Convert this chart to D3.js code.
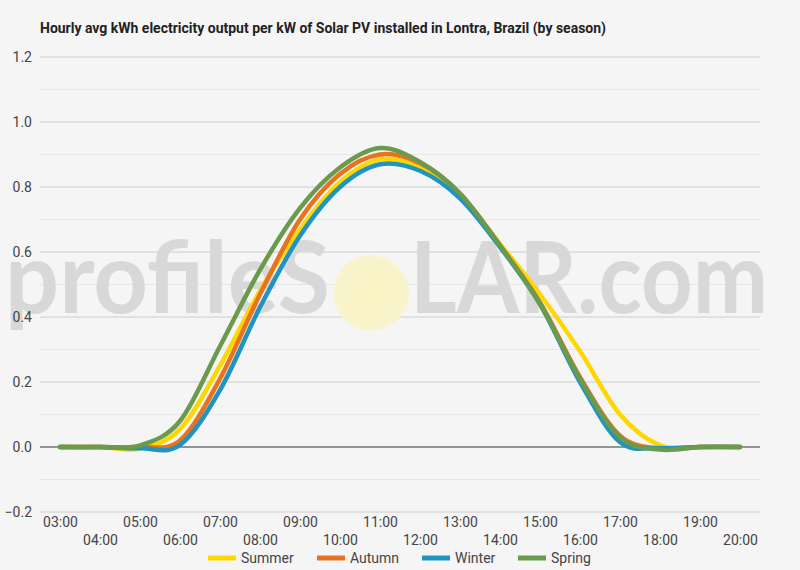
<!DOCTYPE html>
<html><head><meta charset="utf-8">
<script src="https://cdn.jsdelivr.net/npm/d3@7"></script>
<style>body{margin:0;background:#f5f5f5;}svg{display:block;font-family:Roboto,"Noto Sans",sans-serif;}</style>
</head><body>
<svg id="c" width="800" height="570"></svg>
<script>
const hours = ["03:00","04:00","05:00","06:00","07:00","08:00","09:00","10:00","11:00","12:00","13:00","14:00","15:00","16:00","17:00","18:00","19:00","20:00"];
const summer = [0,0,-0.005,0.055,0.25,0.48,0.67,0.815,0.885,0.86,0.775,0.625,0.47,0.295,0.10,0.005,0,0];
const autumn = [0,0,0,0.02,0.21,0.47,0.70,0.84,0.90,0.873,0.78,0.62,0.445,0.215,0.035,-0.005,0,0];
const winter = [0,0,-0.004,0.006,0.175,0.43,0.65,0.80,0.87,0.85,0.765,0.615,0.44,0.20,0.015,-0.003,0,0];
const spring = [0,0,0.005,0.08,0.31,0.545,0.735,0.86,0.92,0.877,0.78,0.62,0.44,0.21,0.03,-0.008,0,0];
const seriesNames = ["Summer","Autumn","Winter","Spring"];
const seriesColors = ["#FFD700","#E8731F","#1F94C2","#6A9B4D"];
const yTicks = [-0.2,0,0.2,0.4,0.6,0.8,1.0,1.2];
const yMinor = [-0.1,0.1,0.3,0.5,0.7,0.9,1.1];
const title = "Hourly avg kWh electricity output per kW of Solar PV installed in Lontra, Brazil (by season)";

const svg = d3.select("#c");
svg.append("rect").attr("width",800).attr("height",570).attr("fill","#f5f5f5");
const L=40,R=760,T=57,B=512;
const x = d3.scalePoint().domain(hours).range([L,R]).padding(0.5);
const y = d3.scaleLinear().domain([-0.2,1.2]).range([B,T]);

// minor grid
svg.append("g").selectAll("line").data(yMinor).join("line")
  .attr("x1",L).attr("x2",R).attr("y1",d=>y(d)).attr("y2",d=>y(d))
  .attr("stroke","#e6e6e6").attr("stroke-width",1);
// major grid
svg.append("g").selectAll("line").data(yTicks.filter(d=>d!==0)).join("line")
  .attr("x1",L).attr("x2",R).attr("y1",d=>y(d)).attr("y2",d=>y(d))
  .attr("stroke","#cccccc").attr("stroke-width",1);

// watermark
const defs = svg.append("defs");
const rg = defs.append("radialGradient").attr("id","sun");
rg.append("stop").attr("offset","0%").attr("stop-color","#fbf3c0");
rg.append("stop").attr("offset","100%").attr("stop-color","#f9f3cf");
const wm = svg.append("g");
wm.append("text").attr("x",5).attr("y",313).attr("font-family","Lato, 'Open Sans', sans-serif")
  .attr("font-size",100).attr("font-weight",700).attr("fill","#d8d8d8")
  .attr("textLength",325).attr("lengthAdjust","spacingAndGlyphs").text("profileS");
wm.append("circle").attr("cx",371).attr("cy",293).attr("r",38).attr("fill","url(#sun)");
wm.append("text").attr("x",410).attr("y",313).attr("font-family","Lato, 'Open Sans', sans-serif")
  .attr("font-size",100).attr("font-weight",700).attr("fill","#d8d8d8")
  .attr("textLength",358).attr("lengthAdjust","spacingAndGlyphs").text("LAR.com");

// zero line
svg.append("line").attr("x1",L).attr("x2",R).attr("y1",y(0)).attr("y2",y(0)).attr("stroke","#333").attr("stroke-width",1);

// y axis labels
const yAxis = d3.axisLeft(y).tickValues(yTicks).tickFormat(d3.format(".1f")).tickSize(0).tickPadding(8);
const ya = svg.append("g").attr("transform",`translate(${L},0)`).call(yAxis);
ya.select(".domain").remove();
ya.selectAll("text").attr("font-size",14).attr("fill","#444").attr("font-family","Roboto, sans-serif");

// x axis labels (two rows)
const xAxis = d3.axisBottom(x).tickSize(0).tickPadding(0);
const xa = svg.append("g").attr("transform",`translate(0,${B})`).call(xAxis);
xa.select(".domain").remove();
xa.selectAll(".tick text").attr("font-size",14).attr("fill","#444").attr("font-family","Roboto, sans-serif")
  .attr("dy",null).attr("y",(d,i)=> i%2===0 ? 15 : 33);

// lines
const line = d3.line().x((d,i)=>x(hours[i])).y(d=>y(d)).curve(d3.curveCatmullRom.alpha(0));
const allSeries = [summer,autumn,winter,spring];
svg.append("g").selectAll("path").data(allSeries).join("path")
  .attr("d",line).attr("fill","none").attr("stroke",(d,i)=>seriesColors[i])
  .attr("stroke-width",4.5).attr("stroke-linecap","round").attr("stroke-linejoin","round");

// title
svg.append("text").attr("x",40).attr("y",33).attr("font-size",14).attr("font-weight",700)
  .attr("fill","#222").attr("textLength",566).attr("lengthAdjust","spacingAndGlyphs").text(title);

// legend
const legX = [208,317,422,518];
const lg = svg.append("g").selectAll("g").data(seriesNames).join("g")
  .attr("transform",(d,i)=>`translate(${legX[i]},558)`);
lg.append("line").attr("x1",0).attr("x2",28).attr("y1",0).attr("y2",0)
  .attr("stroke",(d,i)=>seriesColors[i]).attr("stroke-width",5);
lg.append("text").attr("x",33).attr("y",5).attr("font-size",14).attr("fill","#444").text(d=>d);
</script>
</body></html>
